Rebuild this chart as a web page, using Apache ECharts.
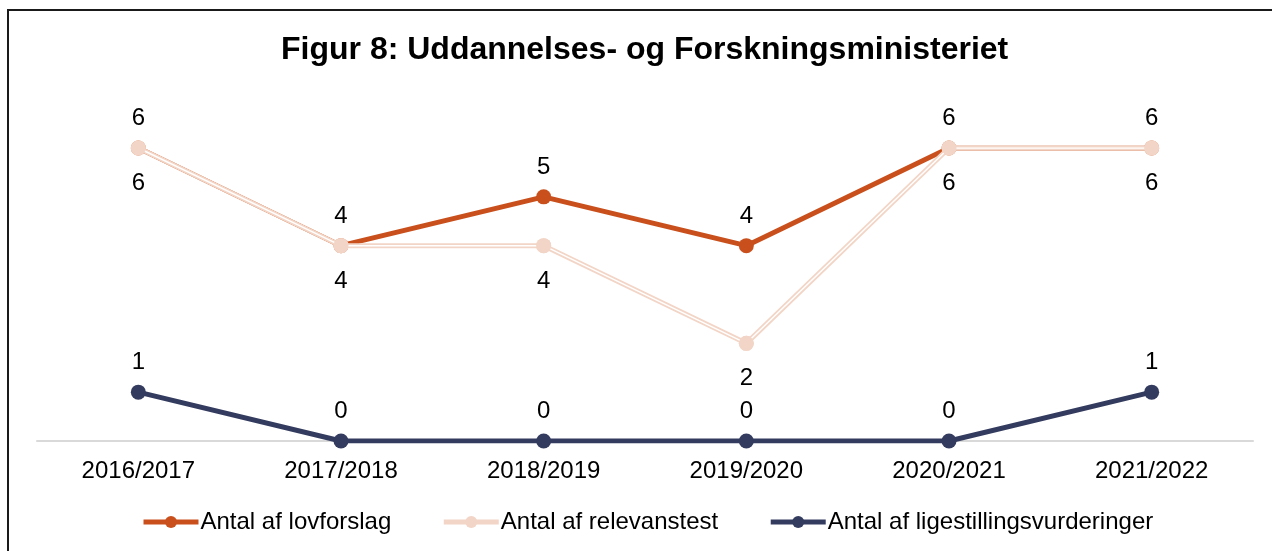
<!DOCTYPE html>
<html>
<head>
<meta charset="utf-8">
<script src="https://cdn.jsdelivr.net/npm/echarts@6/dist/echarts.min.js"></script>
<style>html,body{margin:0;padding:0;background:#fff;}#c{width:1272px;height:551px;}</style>
</head>
<body>
<div id="c"></div>
<script>
var categories = ['2016/2017','2017/2018','2018/2019','2019/2020','2020/2021','2021/2022'];
var lovforslag = [6, 4, 5, 4, 6, 6];
var relevanstest = [6, 4, 4, 2, 6, 6];
var ligestilling = [1, 0, 0, 0, 0, 1];
var titleText = 'Figur 8: Uddannelses- og Forskningsministeriet';

var FONT = '"Liberation Sans", Arial, sans-serif';
var chart = echarts.init(document.getElementById('c'));
var lbl = {show: true, fontSize: 24, color: '#000', fontFamily: FONT};
chart.setOption({
  animation: false,
  title: {text: titleText, left: 276, top: 29, textStyle: {fontSize: 32, fontWeight: 'bold', color: '#000', fontFamily: FONT}},
  graphic: [{type: 'rect', shape: {x: 8, y: 10, width: 1400, height: 1000}, style: {fill: 'none', stroke: '#1a1a1a', lineWidth: 2}, silent: true}],
  legend: {
    left: 141, top: 510, padding: 0, itemGap: 50, itemWidth: 55, itemHeight: 15,
    data: ['Antal af lovforslag', 'Antal af relevanstest', 'Antal af ligestillingsvurderinger'],
    lineStyle: {width: 5},
    textStyle: {fontSize: 24, color: '#000', fontFamily: FONT, padding: [0,0,0,-3]}
  },
  grid: {left: 37, right: 19, top: 148, bottom: 110},
  xAxis: {
    type: 'category', data: categories, boundaryGap: true,
    axisLine: {lineStyle: {color: '#d9d9d9', width: 2}},
    axisTick: {show: false},
    axisLabel: {fontSize: 24, color: '#000', fontFamily: FONT, margin: 18}
  },
  yAxis: {type: 'value', min: 0, max: 6, show: false, splitLine: {show: false}},
  series: [
    {name: 'Antal af lovforslag', type: 'line', data: lovforslag, symbol: 'circle', symbolSize: 15,
     itemStyle: {color: '#C9501C'}, lineStyle: {color: '#C9501C', width: 5},
     label: Object.assign({position: 'top', distance: 10}, lbl), z: 2},
    {name: 'Antal af relevanstest', type: 'line', data: relevanstest, symbol: 'circle', symbolSize: 15,
     itemStyle: {color: '#F2D5C6'}, lineStyle: {color: '#F2D5C6', width: 5},
     label: Object.assign({position: 'bottom', distance: 16}, lbl), z: 3},
    {name: '_core', type: 'line', data: relevanstest, showSymbol: false, silent: true,
     lineStyle: {color: '#ffffff', width: 1.5}, itemStyle: {color: '#fff'}, z: 4, tooltip: {show: false}},
    {name: '_sym', type: 'line', data: relevanstest, symbol: 'circle', symbolSize: 15, silent: true,
     itemStyle: {color: '#F2D5C6'}, lineStyle: {width: 0, opacity: 0}, z: 5},
    {name: 'Antal af ligestillingsvurderinger', type: 'line', data: ligestilling, symbol: 'circle', symbolSize: 15,
     itemStyle: {color: '#333B5E'}, lineStyle: {color: '#333B5E', width: 5},
     label: Object.assign({position: 'top', distance: 10}, lbl), z: 6}
  ]
});
</script>
</body>
</html>
